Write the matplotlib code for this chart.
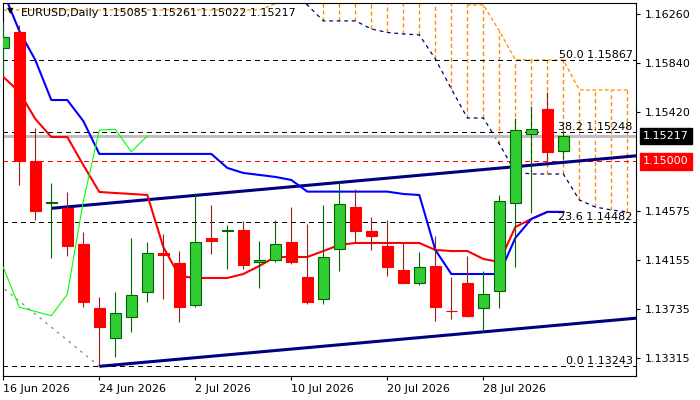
import matplotlib
matplotlib.use("Agg")
import matplotlib.pyplot as plt
import matplotlib.transforms as mtransforms
from matplotlib.patches import Rectangle
import numpy as np

# EURUSD daily bars, 16 Jun .. 4 Aug 2026
symbol = "EURUSD,Daily"
opens = [1.15971, 1.16108, 1.15003, 1.14645, 1.14603, 1.14291, 1.13743, 1.13483, 1.13663, 1.13878,
         1.14212, 1.14126, 1.13766, 1.14340, 1.14402, 1.14411, 1.14135, 1.14152, 1.14309, 1.14009,
         1.13818, 1.14246, 1.14609, 1.14403, 1.14274, 1.14069, 1.13955, 1.14103, 1.13717, 1.13955,
         1.13740, 1.13889, 1.14640, 1.15232, 1.15451, 1.15085]
highs = [1.16194, 1.16168, 1.15288, 1.14814, 1.14740, 1.14397, 1.13840, 1.13880, 1.14340, 1.14306,
         1.14375, 1.14231, 1.14726, 1.14626, 1.14454, 1.14489, 1.14317, 1.14495, 1.14611, 1.14463,
         1.14626, 1.14831, 1.14760, 1.14525, 1.14497, 1.14298, 1.14223, 1.14360, 1.14011, 1.14186,
         1.14060, 1.14711, 1.15371, 1.15474, 1.15597, 1.15261]
lows = [1.15740, 1.14797, 1.14497, 1.14174, 1.14191, 1.13754, 1.13243, 1.13326, 1.13540, 1.13797,
        1.13823, 1.13620, 1.13749, 1.14203, 1.14080, 1.14077, 1.13912, 1.14140, 1.14118, 1.13775,
        1.13775, 1.14060, 1.14309, 1.14240, 1.14020, 1.13955, 1.13943, 1.13634, 1.13646, 1.13663,
        1.13535, 1.13746, 1.14092, 1.14555, 1.14983, 1.15022]
closes = [1.16065, 1.15003, 1.14577, 1.14652, 1.14277, 1.13797, 1.13578, 1.13698, 1.13852, 1.14212,
          1.14195, 1.13754, 1.14306, 1.14320, 1.14408, 1.14114, 1.14154, 1.14289, 1.14140, 1.13797,
          1.14178, 1.14632, 1.14405, 1.14363, 1.14097, 1.13960, 1.14092, 1.13749, 1.13713, 1.13677,
          1.13860, 1.14657, 1.15268, 1.15274, 1.15082, 1.15217]

# ichimoku lines
tenkan = [1.15723, 1.15594, 1.15363, 1.15208, 1.15208, 1.14968, 1.14737, 1.14728, 1.14720, 1.14711,
          1.14266, 1.14017, 1.14000, 1.14000, 1.14000, 1.14034, 1.14103, 1.14180, 1.14180, 1.14180,
          1.14231, 1.14283, 1.14300, 1.14300, 1.14300, 1.14300, 1.14300, 1.14240, 1.14231, 1.14231,
          1.14163, 1.14137, 1.14437, 1.14506, 1.14566, 1.14566]
kijun = [1.16451, 1.16117, 1.15868, 1.15525, 1.15525, 1.15345, 1.15063, 1.15063, 1.15063, 1.15063,
         1.15063, 1.15063, 1.15063, 1.15063, 1.14943, 1.14900, 1.14883, 1.14866, 1.14840, 1.14740,
         1.14740, 1.14740, 1.14740, 1.14740, 1.14740, 1.14720, 1.14711, 1.14240, 1.14034, 1.14034,
         1.14034, 1.14034, 1.14343, 1.14506, 1.14566, 1.14566]
span_a = [1.16297] * 17 + [1.16350, 1.16450] + [1.16600] * 10 + \
         [1.16340, 1.16340, 1.16117, 1.15870, 1.15868, 1.15868, 1.15868, 1.15611, 1.15611, 1.15611, 1.15611]
span_b = [1.16600] * 18 + [1.16460, 1.16340, 1.16203, 1.16203, 1.16203, 1.16134, 1.16104, 1.16091,
                           1.16083, 1.15877, 1.15620, 1.15371, 1.15371, 1.15148, 1.14908, 1.14891,
                           1.14891, 1.14891, 1.14668, 1.14608, 1.14583, 1.14566]
chikou_shift = 26

date_ticks = [0, 6, 12, 18, 24, 30]
date_labels = ["16 Jun 2026", "24 Jun 2026", "2 Jul 2026", "10 Jul 2026", "20 Jul 2026", "28 Jul 2026"]
price_ticks = [1.16260, 1.15840, 1.15420, 1.14575, 1.14155, 1.13735, 1.13315]

fib_anchor = [(-40.9, 1.18491), (6, 1.13243)]
fib_levels = [0.0, 23.6, 38.2, 50.0]
trend_upper = [(3, 1.14597), (39, 1.15040)]
trend_lower = [(6, 1.13243), (39.5, 1.13655)]
alert_price = 1.15000
bid = 1.15217

bull_body = "#32CD32"
bull_line = "#006400"
bear_body = "#FF0000"
bear_line = "#9B1B1B"
orange = "#FF8C00"
navy = "#000080"

fig = plt.figure(figsize=(7, 4), dpi=100)
ax = fig.add_axes([2.7 / 700, 24 / 400, (636 - 2.7) / 700, (376 - 2.7) / 400])
ax.set_xlim(-0.0375, 39.54)
ax.set_ylim(1.13160, 1.16359)

# cloud: dashed vertical hatch where span A is above span B
for i in range(len(span_a)):
    if span_a[i] > span_b[i]:
        ax.plot([i, i], [span_b[i], span_a[i]], color=orange, lw=1.0,
                ls=(0, (3, 2)), zorder=1)
xs = np.arange(len(span_a))
ax.plot(xs, span_a, color=orange, ls=(0, (3, 2)), lw=0.9, zorder=1)
ax.plot(xs, span_b, color=navy, ls=(0, (3, 3)), lw=0.9, zorder=1)

# horizontal levels
ax.axhline(bid, color="#C0C0C0", lw=1.0, antialiased=False, zorder=1)
ax.axhline(alert_price, color="red", lw=1.0, ls=(0, (3, 3)), antialiased=False, zorder=1)

# fibonacci
(fx1, fp100), (fx2, fp0) = fib_anchor
ax.plot([fx1, fx2], [fp100, fp0], color="#808080", lw=0.9, ls=(0, (2, 4)), zorder=1)
trans = mtransforms.blended_transform_factory(ax.transAxes, ax.transData)
for lvl in fib_levels:
    p = fp0 + (fp100 - fp0) * lvl / 100.0
    ax.axhline(p, color="black", lw=1.0, ls=(0, (3, 3)), antialiased=False, zorder=1)
    ax.text(0.995, p, "%.1f %.5f" % (lvl, p), transform=trans, ha="right", va="bottom",
            fontsize=8, color="black", zorder=6)

# trend lines
for (x1, p1), (x2, p2) in [trend_upper, trend_lower]:
    k = (p2 - p1) / (x2 - x1)
    ax.plot([x1, 45], [p1, p1 + k * (45 - x1)], color=navy, lw=2.2, zorder=2,
            solid_capstyle="butt")

# ichimoku lines
ax.plot(np.arange(len(tenkan)), tenkan, color="red", lw=1.5, zorder=3)
ax.plot(np.arange(len(kijun)), kijun, color="blue", lw=1.5, zorder=3)
ch = closes[chikou_shift:]
ax.plot(np.arange(len(ch)), ch, color="#00FF00", lw=0.8, zorder=3)

# candles
w = 0.66
for i in range(len(opens)):
    o, h, l, c = opens[i], highs[i], lows[i], closes[i]
    if c >= o:
        fc, lc, ec = bull_body, bull_line, bull_line
    else:
        fc, lc, ec = bear_body, bear_line, bear_body
    ax.vlines(i, l, h, colors=lc, lw=0.8, zorder=4)
    lo = min(o, c)
    hgt = max(abs(c - o), 0.00002)
    ax.add_patch(Rectangle((i - w / 2, lo), w, hgt, facecolor=fc, edgecolor=ec,
                           lw=0.8, zorder=5))

# axes styling
for s in ax.spines.values():
    s.set_linewidth(0.8)
    s.set_color("black")
ax.yaxis.tick_right()
ax.set_yticks(price_ticks)
ax.set_yticklabels(["%.5f" % p for p in price_ticks])
ax.tick_params(axis="y", length=3, pad=3, labelsize=8, direction="out")
ax.set_xticks(date_ticks)
ax.set_xticklabels(date_labels)
ax.tick_params(axis="x", length=3, pad=3, labelsize=8, direction="out")
plt.setp(ax.get_xticklabels(), ha="left")

# price labels on the right
ax.text(1.0115, bid, "%.5f" % bid, transform=trans, ha="left", va="center", fontsize=8,
        color="white", zorder=7, clip_on=False,
        bbox=dict(boxstyle="square,pad=0.3", fc="black", ec="black"))
ax.text(1.0115, alert_price, "%.5f" % alert_price, transform=trans, ha="left", va="center",
        fontsize=8, color="white", zorder=7, clip_on=False,
        bbox=dict(boxstyle="square,pad=0.3", fc="red", ec="red"))

# header
fig.text(10 / 700, 1 - 11 / 400, "\u25bc", fontsize=6, ha="center", va="center", color="black")
fig.text(20.7 / 700, 1 - 12.7 / 400, symbol, fontsize=8, ha="left", va="center", color="black")
fig.text(101.7 / 700, 1 - 12.7 / 400,
         "%.5f %.5f %.5f %.5f" % (opens[-1], highs[-1], lows[-1], closes[-1]),
         fontsize=8, ha="left", va="center", color="black")

fig.savefig("out.png", dpi=100, facecolor="white")
